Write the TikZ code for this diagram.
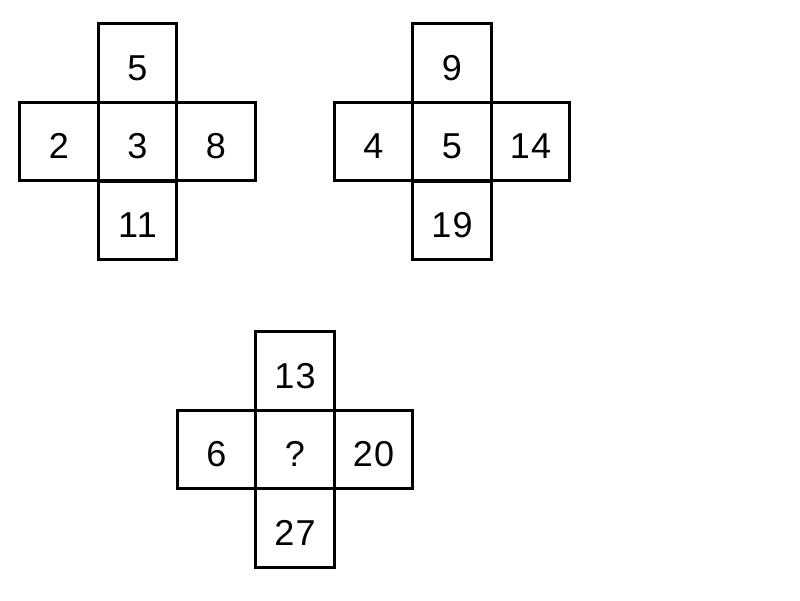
\documentclass[tikz,border=0pt]{standalone}
\usepackage{fontspec}
\setmainfont{Liberation Sans}
\newfontfamily\cellfont[LetterSpace=4]{Liberation Sans}
\begin{document}
\begin{tikzpicture}[x=1pt,y=-1pt,
  cell/.style={draw=black,line width=2.6pt,rectangle,minimum width=78.5pt,minimum height=78.5pt,inner sep=0pt,
    text height=34pt,text depth=0pt,font=\cellfont\fontsize{36}{42}\selectfont}]
\useasboundingbox (0,0) rectangle (800,600);
% cross 1
\node[cell] (a0) at (137.5,141.5) {3};
\node[cell] (aN) at (137.5,63) {5};
\node[cell] (aS) at (137.5,220.5) {11};
\node[cell] (aW) at (59,141.5) {2};
\node[cell] (aE) at (216,141.5) {8};
% cross 2
\node[cell] (b0) at (452,141.5) {5};
\node[cell] (bN) at (452,63) {9};
\node[cell] (bS) at (452,220.5) {19};
\node[cell] (bW) at (373.5,141.5) {4};
\node[cell] (bE) at (530.5,141.5) {14};
% cross 3
\node[cell] (c0) at (295,449.5) {?};
\node[cell] (cN) at (295,371) {13};
\node[cell] (cS) at (295,528) {27};
\node[cell] (cW) at (216.5,449.5) {6};
\node[cell] (cE) at (373.5,449.5) {20};
\end{tikzpicture}
\end{document}
